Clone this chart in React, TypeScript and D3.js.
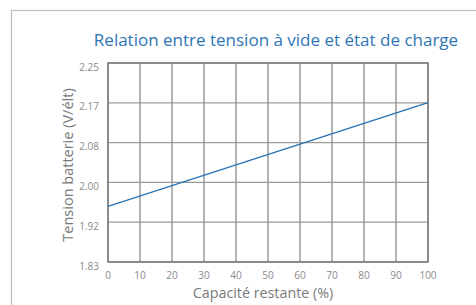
import React from "react";
import * as d3 from "d3";

const xTicks = [0, 10, 20, 30, 40, 50, 60, 70, 80, 90, 100];
const yTicks = [11 / 6, 23 / 12, 2.0, 25 / 12, 13 / 6, 2.25];
const capacity = [0, 100];
const voltage = [1.95, 2.167];

const W = 476;
const H = 305;
const M = { left: 108, right: 428, top: 63, bottom: 262 };
const FONT = "'Open Sans', 'Liberation Sans', Arial, sans-serif";

export default function App() {
  const x = d3.scaleLinear().domain([0, 100]).range([M.left, M.right]);
  const y = d3.scaleLinear().domain([11 / 6, 2.25]).range([M.bottom, M.top]);
  const line = d3
    .line<number>()
    .x((_, i) => x(capacity[i]))
    .y((d) => y(d));
  const fmt = d3.format(".2f");
  return (
    <svg
      width={W}
      height={H}
      style={{ position: "absolute", left: 0, top: 0, background: "#fff" }}
    >
      <rect x={11.5} y={10.5} width={480} height={310} fill="#fff" stroke="#bdbdbd" strokeWidth={1.2} />
      <text
        x={276}
        y={46}
        textAnchor="middle"
        fontFamily={FONT}
        fontSize={17}
        fill="#2e75b6"
      >
        Relation entre tension à vide et état de charge
      </text>
      {xTicks.map((t) => (
        <line key={"gx" + t} x1={x(t)} x2={x(t)} y1={M.top} y2={M.bottom} stroke="#8a8a8a" strokeWidth={1.3} />
      ))}
      {yTicks.map((t, i) => (
        <line key={"gy" + i} x1={M.left} x2={M.right} y1={y(t)} y2={y(t)} stroke="#9a9a9a" strokeWidth={1.3} />
      ))}
      <rect x={M.left} y={M.top} width={M.right - M.left} height={M.bottom - M.top} fill="none" stroke="#777" strokeWidth={1.3} />
      <path d={line(voltage) || ""} fill="none" stroke="#2672b8" strokeWidth={1.3} />
      {yTicks.map((t, i) => (
        <text
          key={"ty" + i}
          x={99}
          y={y(t) + 7.5}
          textAnchor="end"
          fontFamily={FONT}
          fontSize={10}
          fill="#8a8a8a"
        >
          {fmt(t)}
        </text>
      ))}
      {xTicks.map((t) => (
        <text
          key={"tx" + t}
          x={x(t)}
          y={278.5}
          textAnchor="middle"
          fontFamily={FONT}
          fontSize={10}
          fill="#8a8a8a"
        >
          {t}
        </text>
      ))}
      <text
        x={263}
        y={298}
        textAnchor="middle"
        fontFamily={FONT}
        fontSize={14.3}
        fill="#7a7a7a"
      >
        Capacité restante (%)
      </text>
      <text
        transform={`translate(73,${165}) rotate(-90)`}
        textAnchor="middle"
        fontFamily={FONT}
        fontSize={14.5}
        fill="#7a7a7a"
      >
        Tension batterie (V/élt)
      </text>
    </svg>
  );
}
